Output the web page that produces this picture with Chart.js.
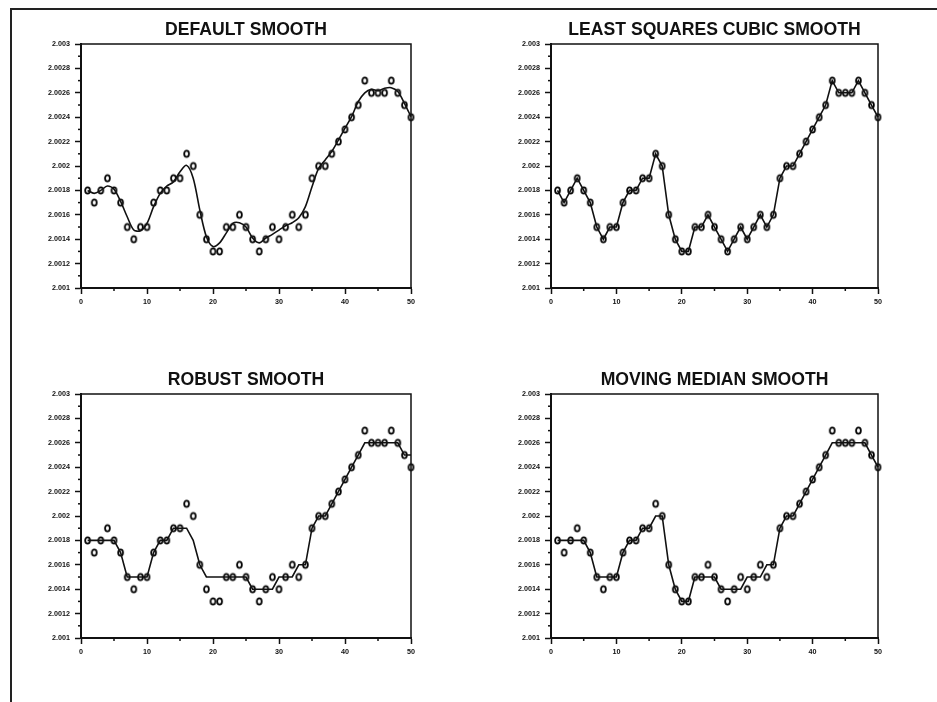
<!DOCTYPE html>
<html><head><meta charset="utf-8">
<script src="https://cdn.jsdelivr.net/npm/chart.js@4.4.1/dist/chart.umd.min.js"></script>
<style>
html,body{margin:0;padding:0;background:#fff;}
body{width:937px;height:702px;position:relative;overflow:hidden;}
#frame{position:absolute;left:10px;top:8px;width:940px;height:710px;border-top:2px solid #222;border-left:2px solid #222;}
.panel{position:absolute;width:470px;height:350px;}
canvas{display:block;}
</style></head><body>
<div id="frame"></div>
<div class="panel" style="left:0;top:0"><canvas id="c1" width="470" height="350"></canvas></div>
<div class="panel" style="left:470px;top:0"><canvas id="c2" width="467" height="350"></canvas></div>
<div class="panel" style="left:0;top:350px"><canvas id="c3" width="470" height="350"></canvas></div>
<div class="panel" style="left:470px;top:350px"><canvas id="c4" width="467" height="350"></canvas></div>
<script>
// ---- data ----
const xValues = [1,2,3,4,5,6,7,8,9,10,11,12,13,14,15,16,17,18,19,20,21,22,23,24,25,26,27,28,29,30,31,32,33,34,35,36,37,38,39,40,41,42,43,44,45,46,47,48,49,50];
const rawValues = [2.0018,2.0017,2.0018,2.0019,2.0018,2.0017,2.0015,2.0014,2.0015,2.0015,
  2.0017,2.0018,2.0018,2.0019,2.0019,2.0021,2.0020,2.0016,2.0014,2.0013,
  2.0013,2.0015,2.0015,2.0016,2.0015,2.0014,2.0013,2.0014,2.0015,2.0014,
  2.0015,2.0016,2.0015,2.0016,2.0019,2.0020,2.0020,2.0021,2.0022,2.0023,
  2.0024,2.0025,2.0027,2.0026,2.0026,2.0026,2.0027,2.0026,2.0025,2.0024];
const defaultSmooth = [2.00180,2.001776,2.00180,2.001836,2.00181,2.00171,2.001584,2.001475,2.00147,2.00153,
  2.001667,2.001776,2.001836,2.00187,2.001953,2.002005,2.00190,2.00164,2.00142,2.00134,
  2.00137,2.00145,2.00153,2.001535,2.00150,2.00141,2.00137,2.00141,2.00144,2.001475,
  2.00151,2.001535,2.001575,2.001667,2.00183,2.00198,2.00205,2.00212,2.002213,2.00231,
  2.002404,2.002527,2.00260,2.002628,2.002617,2.002637,2.002642,2.00261,2.002514,2.002404];
const lsqCubicSmooth = [2.0018,2.0017,2.0018,2.0019,2.0018,2.0017,2.0015,2.0014,2.0015,2.0015,
  2.0017,2.0018,2.0018,2.0019,2.0019,2.0021,2.0020,2.0016,2.0014,2.0013,
  2.0013,2.0015,2.0015,2.0016,2.0015,2.0014,2.0013,2.0014,2.0015,2.0014,
  2.0015,2.0016,2.0015,2.0016,2.0019,2.0020,2.0020,2.0021,2.0022,2.0023,
  2.0024,2.0025,2.0027,2.0026,2.0026,2.0026,2.0027,2.0026,2.0025,2.0024];
const robustSmooth = [2.0018,2.0018,2.0018,2.0018,2.0018,2.0017,2.0015,2.0015,2.0015,2.0015,
  2.0017,2.0018,2.0018,2.0019,2.0019,2.0019,2.0018,2.0016,2.0015,2.0015,
  2.0015,2.0015,2.0015,2.0015,2.0015,2.0014,2.0014,2.0014,2.0014,2.0015,
  2.0015,2.0015,2.0016,2.0016,2.0019,2.0020,2.0020,2.0021,2.0022,2.0023,
  2.0024,2.0025,2.0026,2.0026,2.0026,2.0026,2.0026,2.0026,2.0025,2.0025];
const medianSmooth = [2.0018,2.0018,2.0018,2.0018,2.0018,2.0017,2.0015,2.0015,2.0015,2.0015,
  2.0017,2.0018,2.0018,2.0019,2.0019,2.0020,2.0020,2.0016,2.0014,2.0013,
  2.0013,2.0015,2.0015,2.0015,2.0015,2.0014,2.0014,2.0014,2.0014,2.0015,
  2.0015,2.0015,2.0016,2.0016,2.0019,2.0020,2.0020,2.0021,2.0022,2.0023,
  2.0024,2.0025,2.0026,2.0026,2.0026,2.0026,2.0026,2.0026,2.0025,2.0024];
const panelTitles = ['DEFAULT SMOOTH','LEAST SQUARES CUBIC SMOOTH','ROBUST SMOOTH','MOVING MEDIAN SMOOTH'];
const yTickValues = [2.001,2.0012,2.0014,2.0016,2.0018,2.002,2.0022,2.0024,2.0026,2.0028,2.003];
const yMinorTicks = [2.0011,2.0013,2.0015,2.0017,2.0019,2.0021,2.0023,2.0025,2.0027,2.0029];
const xTickValues = [0,10,20,30,40,50];
const xMinorTicks = [5,15,25,35,45];

// ---- marker: bold "0" ring ----
function makeMarker(){
  const c = document.createElement('canvas');
  c.width = 9; c.height = 11;
  const g = c.getContext('2d');
  g.strokeStyle = '#000'; g.lineWidth = 1.8;
  g.beginPath(); g.ellipse(4.5, 5.5, 2.4, 3.1, 0, 0, Math.PI*2); g.stroke();
  return c;
}
const marker = makeMarker();

const boxPlugin = {
  id: 'boxPlugin',
  afterDraw(chart){
    const {ctx, chartArea:a, scales:{x, y}} = chart;
    ctx.save();
    ctx.strokeStyle = '#111';
    ctx.lineWidth = 1.5;
    ctx.beginPath();
    ctx.moveTo(a.left, a.top); ctx.lineTo(a.right, a.top); ctx.lineTo(a.right, a.bottom);
    ctx.stroke();
    yMinorTicks.forEach(v => {
      const py = y.getPixelForValue(v);
      ctx.beginPath(); ctx.moveTo(a.left - 3, py); ctx.lineTo(a.left, py); ctx.stroke();
    });
    xMinorTicks.forEach(v => {
      const px = x.getPixelForValue(v);
      ctx.beginPath(); ctx.moveTo(px, a.bottom); ctx.lineTo(px, a.bottom + 3); ctx.stroke();
    });
    ctx.restore();
  }
};

const tickFont = {family: '"Liberation Sans", Arial, sans-serif', size: 7.2, weight: 'bold'};

function makeChart(id, title, smooth, tension){
  const pts = xValues.map((x, i) => ({x: x, y: rawValues[i]}));
  const line = xValues.map((x, i) => ({x: x, y: smooth[i]}));
  new Chart(document.getElementById(id), {
    type: 'line',
    data: {
      datasets: [
        {data: line, borderColor: '#111', borderWidth: 1.6, pointRadius: 0, tension: tension, fill: false, clip: false},
        {data: pts, showLine: false, pointStyle: marker, pointRadius: 4, borderColor: '#111', clip: false}
      ]
    },
    options: {
      responsive: false,
      animation: false,
      events: [],
      layout: {padding: {left: 0, right: 59, top: 0, bottom: 37}},
      plugins: {
        legend: {display: false},
        tooltip: {enabled: false},
        title: {
          display: true, text: title, fullSize: false, color: '#111',
          font: {family: '"Liberation Sans", Arial, sans-serif', size: 17.6, weight: 'bold', lineHeight: 1.2},
          padding: {top: 19.8, bottom: 3.1}
        }
      },
      scales: {
        x: {
          type: 'linear', min: 0, max: 50,
          afterBuildTicks: s => { s.ticks = xTickValues.map(v => ({value: v})); },
          afterFit: s => { s.height = 25; },
          grid: {display: true, drawOnChartArea: false, drawTicks: true, tickLength: 6, tickWidth: 1.5, tickColor: '#111'},
          border: {display: true, width: 2, color: '#111'},
          ticks: {font: tickFont, color: '#111', maxRotation: 0, autoSkip: false, padding: 4}
        },
        y: {
          type: 'linear', min: 2.001, max: 2.003,
          afterBuildTicks: s => { s.ticks = yTickValues.map(v => ({value: v})); },
          afterFit: s => { s.width = 81; },
          grid: {display: true, drawOnChartArea: false, drawTicks: true, tickLength: 6, tickWidth: 1.5, tickColor: '#111'},
          border: {display: true, width: 2, color: '#111'},
          ticks: {font: tickFont, color: '#111', autoSkip: false, padding: 5,
            callback: v => String(parseFloat(Number(v).toFixed(4)))}
        }
      }
    },
    plugins: [boxPlugin]
  });
}

makeChart('c1', panelTitles[0], defaultSmooth, 0.3);
makeChart('c2', panelTitles[1], lsqCubicSmooth, 0);
makeChart('c3', panelTitles[2], robustSmooth, 0);
makeChart('c4', panelTitles[3], medianSmooth, 0);
</script>
</body></html>
